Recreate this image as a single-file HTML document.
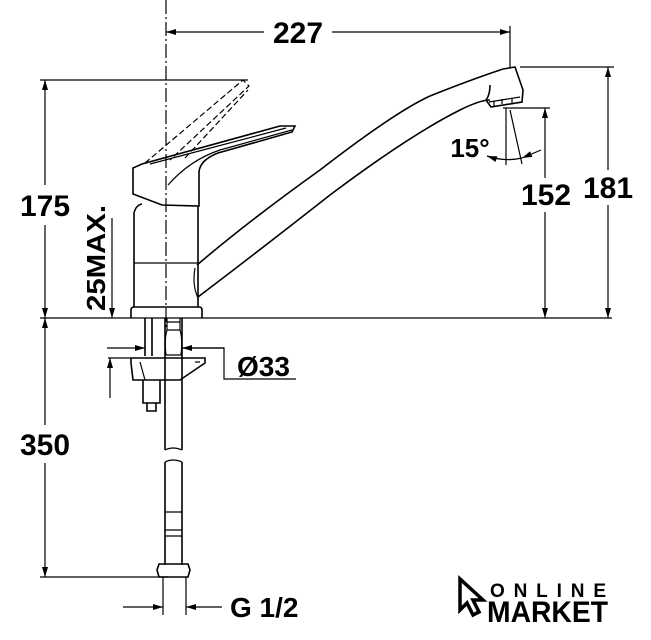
<!DOCTYPE html>
<html><head><meta charset="utf-8"><style>
html,body{margin:0;padding:0;background:#fff;}
svg{display:block;}
text{font-family:"Liberation Sans",sans-serif;font-weight:bold;fill:#000;}
</style></head><body>
<svg width="651" height="640" viewBox="0 0 651 640" xmlns="http://www.w3.org/2000/svg">
<defs>
<marker id="a" viewBox="0 0 10 6" refX="10" refY="3" markerWidth="11" markerHeight="6" orient="auto-start-reverse" markerUnits="userSpaceOnUse"><path d="M0,0L10,3L0,6z" fill="#000"/></marker>
</defs>
<g stroke="#000" fill="none" stroke-width="1.2">
<line x1="40" y1="318" x2="612" y2="318"/>
<line x1="166" y1="0" x2="166" y2="330" stroke-dasharray="14,3,2,3"/>
<line x1="166" y1="32" x2="265" y2="32" marker-start="url(#a)"/>
<line x1="332" y1="32" x2="510" y2="32" marker-end="url(#a)"/>
<line x1="510" y1="26" x2="510" y2="68"/>
<line x1="520" y1="67" x2="614" y2="67"/>
<line x1="608" y1="67" x2="608" y2="170" marker-start="url(#a)"/>
<line x1="608" y1="205" x2="608" y2="318" marker-end="url(#a)"/>
<line x1="503" y1="108" x2="550" y2="108"/>
<line x1="545" y1="108" x2="545" y2="178" marker-start="url(#a)"/>
<line x1="545" y1="212" x2="545" y2="318" marker-end="url(#a)"/>
<line x1="506" y1="108" x2="506" y2="165"/>
<line x1="510" y1="110" x2="522" y2="164"/>
<path d="M487,156 Q505,162 522,158" marker-start="url(#a)"/>
<line x1="522" y1="158" x2="541" y2="150" marker-start="url(#a)"/>
<line x1="40" y1="80" x2="248" y2="80"/>
<line x1="45" y1="80" x2="45" y2="185" marker-start="url(#a)"/>
<line x1="45" y1="225" x2="45" y2="318" marker-end="url(#a)"/>
<line x1="112" y1="218" x2="112" y2="318" marker-end="url(#a)"/>
<line x1="45" y1="318" x2="45" y2="425" marker-start="url(#a)"/>
<line x1="45" y1="463" x2="45" y2="577" marker-end="url(#a)"/>
<line x1="40" y1="577" x2="168" y2="577"/>
<path d="M131,318 L131,310 Q131,307 134,307 L199,307 Q202,307 202,310 L202,318" stroke-width="1.6"/>
<path d="M134,307 L134,213 Q136,205 142,204 M198,307 L198,207" stroke-width="1.6"/>
<line x1="134" y1="263" x2="198" y2="263"/>
<path d="M133,168 L133,194 L162,205 L199,206 L199,172 Q200,160 218,153 L292,132 L295,126 L280,126 L142,164 Z" stroke-width="1.6"/>
<path d="M168,185 Q190,160 220,150 L292,130" />
<path d="M150,164 L286,128"/>
<path d="M145,163 L243,80 L249,86 L170,160 M185,158 L248,90" stroke-dasharray="6,3"/>
<path d="M198,297 Q260,250 330,195 Q410,135 460,110 Q480,100 490,100" stroke-width="1.6"/>
<path d="M197,265 Q250,220 320,170 Q395,112 430,96 Q470,80 503,69" stroke-width="1.6"/>
<path d="M195,268 Q192,285 198,298" stroke-width="1.2"/>
<path d="M503,69 L515,67 L523,90 L522,102 L491,107 L486,100 Q490,95 490,85" stroke-width="1.6"/>
<path d="M489,102 L520,97 M494,106 L494,101 M502,104 L502,99 M512,103 L512,98"/>
<path d="M145,318 L145,356 M152,318 L152,356" stroke-width="1.6"/>
<path d="M165,318 L165,450 M182,318 L182,450" stroke-width="1.6"/>
<path d="M167,318 L167,330 L180,330 L180,318 M167,322 L180,322 M167,330 Q164,340 166,355 L181,355 Q183,340 180,330"/>
<path d="M165,450 Q173,446 182,450 M165,462 Q173,458 182,462"/>
<path d="M165,462 L165,565 M182,462 L182,565" stroke-width="1.6"/>
<path d="M165,512 L182,512 M165,530 L182,530 M165,536 L182,536"/>
<path d="M159,564 L188,564 L190,570 L188,577 L159,577 L157,570 Z" stroke-width="1.6"/>
<path d="M131,358 L205,358 L205,363 L180,380 L133,380 L131,363 Z" stroke-width="1.6"/>
<path d="M143,380 L143,403 L160,403 L160,380 M147,403 L147,411 L156,411 L156,403" stroke-width="1.6"/>
<path d="M140,362 L145,380 M195,362 L200,362"/>
<line x1="107" y1="348" x2="145" y2="348" marker-end="url(#a)"/>
<line x1="224" y1="348" x2="182" y2="348" marker-end="url(#a)"/>
<path d="M182,348 L224,348 L224,379 L296,379"/>
<line x1="108" y1="358" x2="131" y2="358"/>
<line x1="110" y1="398" x2="110" y2="358" marker-end="url(#a)"/>
<line x1="163" y1="577" x2="163" y2="615"/>
<line x1="186" y1="577" x2="186" y2="615"/>
<line x1="123" y1="607" x2="163" y2="607" marker-end="url(#a)"/>
<line x1="222" y1="607" x2="186" y2="607" marker-end="url(#a)"/>
</g>
<rect x="264" y="16" width="68" height="30" fill="#fff"/>
<text x="298" y="43" font-size="30" text-anchor="middle">227</text>
<text x="608" y="198" font-size="30" text-anchor="middle" style="paint-order:stroke" stroke="#fff" stroke-width="6">181</text>
<text x="546" y="205" font-size="30" text-anchor="middle" style="paint-order:stroke" stroke="#fff" stroke-width="6">152</text>
<text x="470" y="157" font-size="26" text-anchor="middle">15°</text>
<text x="45" y="216" font-size="30" text-anchor="middle" style="paint-order:stroke" stroke="#fff" stroke-width="6">175</text>
<text x="45" y="455" font-size="30" text-anchor="middle" style="paint-order:stroke" stroke="#fff" stroke-width="6">350</text>
<text transform="translate(105,311) rotate(-90)" font-size="26" textLength="106" lengthAdjust="spacingAndGlyphs">25MAX.</text>
<text x="237" y="376" font-size="28">Ø33</text>
<text x="230" y="617" font-size="28">G 1/2</text>
<path d="M460,579 L460,610 L467,603 L473,615 L479,612 L473,600 L483,600 Z" fill="none" stroke="#000" stroke-width="3.5"/>
<text x="490" y="597" font-size="19" textLength="116" lengthAdjust="spacing">ONLINE</text>
<text x="487" y="622" font-size="30" textLength="121" lengthAdjust="spacingAndGlyphs">MARKET</text>
</svg>
</body></html>
